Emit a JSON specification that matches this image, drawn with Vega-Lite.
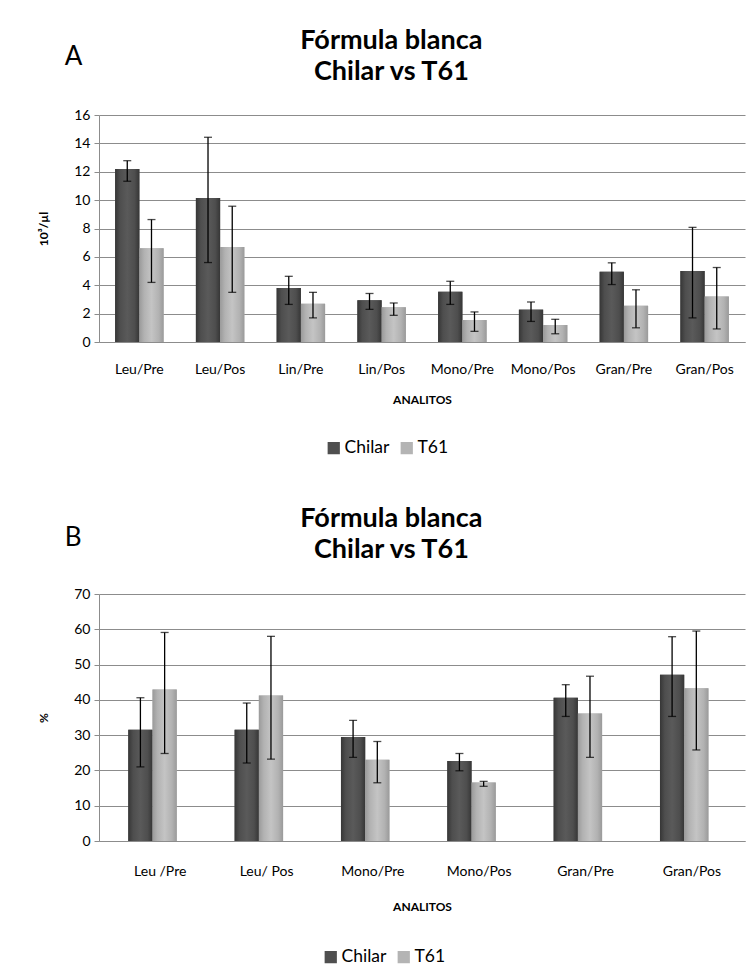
{
  "$schema": "https://vega.github.io/schema/vega-lite/v6.json",
  "background": "white",
  "padding": {"left": 37, "top": 27, "right": 4, "bottom": 0},
  "config": {
    "font": "Lato",
    "view": {"stroke": null},
    "axis": {"domainColor": "#8c8c8c", "gridColor": "#8c8c8c", "gridWidth": 1.2, "tickColor": "#8c8c8c", "labelColor": "#000", "titleColor": "#000", "labelFont": "Lato", "titleFont": "Lato", "labelFontSize": 14, "titleFontSize": 12, "titleFontWeight": "bold"},
    "legend": {"labelFont": "Lato", "labelFontSize": 17.5, "labelColor": "#000", "symbolType": "square", "symbolSize": 150, "symbolStrokeWidth": 0, "direction": "horizontal", "columnPadding": 8, "labelOffset": 2},
    "title": {"font": "Lato", "color": "#000"}
  },
  "datasets": {
    "a": [
      {"cat": "Leu/Pre", "serie": "Chilar", "val": 12.2, "lo": 11.33, "hi": 12.78},
      {"cat": "Leu/Pre", "serie": "T61", "val": 6.6, "lo": 4.2, "hi": 8.63},
      {"cat": "Leu/Pos", "serie": "Chilar", "val": 10.15, "lo": 5.6, "hi": 14.43},
      {"cat": "Leu/Pos", "serie": "T61", "val": 6.7, "lo": 3.5, "hi": 9.57},
      {"cat": "Lin/Pre", "serie": "Chilar", "val": 3.8, "lo": 2.65, "hi": 4.63},
      {"cat": "Lin/Pre", "serie": "T61", "val": 2.7, "lo": 1.7, "hi": 3.5},
      {"cat": "Lin/Pos", "serie": "Chilar", "val": 2.95, "lo": 2.3, "hi": 3.42},
      {"cat": "Lin/Pos", "serie": "T61", "val": 2.45, "lo": 1.88, "hi": 2.75},
      {"cat": "Mono/Pre", "serie": "Chilar", "val": 3.55, "lo": 2.65, "hi": 4.28},
      {"cat": "Mono/Pre", "serie": "T61", "val": 1.55, "lo": 0.75, "hi": 2.12},
      {"cat": "Mono/Pos", "serie": "Chilar", "val": 2.28, "lo": 1.45, "hi": 2.82},
      {"cat": "Mono/Pos", "serie": "T61", "val": 1.2, "lo": 0.58, "hi": 1.6},
      {"cat": "Gran/Pre", "serie": "Chilar", "val": 4.95, "lo": 4.05, "hi": 5.58},
      {"cat": "Gran/Pre", "serie": "T61", "val": 2.55, "lo": 1.0, "hi": 3.68},
      {"cat": "Gran/Pos", "serie": "Chilar", "val": 5.0, "lo": 1.7, "hi": 8.08},
      {"cat": "Gran/Pos", "serie": "T61", "val": 3.2, "lo": 0.92, "hi": 5.25}
    ],
    "b": [
      {"cat": "Leu /Pre", "serie": "Chilar", "val": 31.5, "lo": 21.0, "hi": 40.6},
      {"cat": "Leu /Pre", "serie": "T61", "val": 42.9, "lo": 24.8, "hi": 59.1},
      {"cat": "Leu/ Pos", "serie": "Chilar", "val": 31.5, "lo": 22.1, "hi": 39.1},
      {"cat": "Leu/ Pos", "serie": "T61", "val": 41.2, "lo": 23.2, "hi": 58.0},
      {"cat": "Mono/Pre", "serie": "Chilar", "val": 29.5, "lo": 23.7, "hi": 34.2},
      {"cat": "Mono/Pre", "serie": "T61", "val": 23.0, "lo": 16.5, "hi": 28.2},
      {"cat": "Mono/Pos", "serie": "Chilar", "val": 22.7, "lo": 19.9, "hi": 24.8},
      {"cat": "Mono/Pos", "serie": "T61", "val": 16.6, "lo": 15.5, "hi": 16.9},
      {"cat": "Gran/Pre", "serie": "Chilar", "val": 40.6, "lo": 35.3, "hi": 44.3},
      {"cat": "Gran/Pre", "serie": "T61", "val": 36.1, "lo": 23.7, "hi": 46.7},
      {"cat": "Gran/Pos", "serie": "Chilar", "val": 47.1, "lo": 35.3, "hi": 57.9},
      {"cat": "Gran/Pos", "serie": "T61", "val": 43.3, "lo": 25.8, "hi": 59.5}
    ]
  },
  "resolve": {"legend": {"color": "independent"}, "scale": {"color": "independent"}},
  "spacing": 48,
  "vconcat": [
    {
      "title": {"text": ["Fórmula blanca", "Chilar vs T61"], "anchor": "middle", "frame": "bounds", "fontSize": 27, "fontWeight": "bold", "lineHeight": 31, "offset": -42},
      "vconcat": [
        {
          "title": {"text": "A", "anchor": "start", "frame": "bounds", "fontSize": 26, "fontWeight": "normal", "dx": 27, "offset": 38},
          "width": 646,
          "height": 227,
          "data": {"name": "a"},
          "encoding": {
            "x": {"field": "cat", "type": "nominal", "sort": null, "scale": {"paddingInner": 0.4, "paddingOuter": 0.2}, "axis": {"title": "ANALITOS", "labelAngle": 0, "ticks": false, "grid": false, "labelPadding": 20, "titlePadding": 18}},
            "xOffset": {"field": "serie", "type": "nominal"}
          },
          "layer": [
            {
              "mark": {"type": "bar"},
              "encoding": {
                "y": {"field": "val", "type": "quantitative", "scale": {"domain": [0, 16]}, "axis": {"title": "10³/µl", "values": [0, 2, 4, 6, 8, 10, 12, 14, 16], "tickSize": 5, "labelPadding": 4, "titlePadding": 23}},
                "color": {"field": "serie", "type": "nominal", "scale": {"domain": ["Chilar", "T61"], "range": ["#4f4f4f", "#b4b4b4"]}, "legend": {"title": null, "orient": "none", "legendX": 226, "legendY": 324}}
              }
            },
            {
              "mark": {"type": "bar"},
              "encoding": {
                "y": {"field": "val", "type": "quantitative", "axis": {"title": "10³/µl", "values": [0, 2, 4, 6, 8, 10, 12, 14, 16], "tickSize": 5, "labelPadding": 4, "titlePadding": 23}},
                "fill": {"condition": {"test": "datum.serie === 'Chilar'", "value": {"gradient": "linear", "x1": 0, "y1": 0, "x2": 1, "y2": 0, "stops": [{"offset": 0, "color": "#363636"}, {"offset": 0.2, "color": "#4e4e4e"}, {"offset": 0.5, "color": "#5a5a5a"}, {"offset": 0.8, "color": "#4e4e4e"}, {"offset": 1, "color": "#363636"}]}}, "value": {"gradient": "linear", "x1": 0, "y1": 0, "x2": 1, "y2": 0, "stops": [{"offset": 0, "color": "#9a9a9a"}, {"offset": 0.2, "color": "#b2b2b2"}, {"offset": 0.5, "color": "#c4c4c4"}, {"offset": 0.8, "color": "#b2b2b2"}, {"offset": 1, "color": "#9a9a9a"}]}}
              }
            },
            {
              "mark": {"type": "rule", "color": "#000", "strokeWidth": 1.3},
              "encoding": {"y": {"field": "lo", "type": "quantitative", "axis": {"title": "10³/µl", "values": [0, 2, 4, 6, 8, 10, 12, 14, 16], "tickSize": 5, "labelPadding": 4, "titlePadding": 23}}, "y2": {"field": "hi"}}
            },
            {
              "mark": {"type": "tick", "color": "#000", "size": 8, "thickness": 1.3},
              "encoding": {"y": {"field": "lo", "type": "quantitative", "axis": {"title": "10³/µl", "values": [0, 2, 4, 6, 8, 10, 12, 14, 16], "tickSize": 5, "labelPadding": 4, "titlePadding": 23}}}
            },
            {
              "mark": {"type": "tick", "color": "#000", "size": 8, "thickness": 1.3},
              "encoding": {"y": {"field": "hi", "type": "quantitative", "axis": {"title": "10³/µl", "values": [0, 2, 4, 6, 8, 10, 12, 14, 16], "tickSize": 5, "labelPadding": 4, "titlePadding": 23}}}
            }
          ]
        }
      ]
    },
    {
      "title": {"text": ["Fórmula blanca", "Chilar vs T61"], "anchor": "middle", "frame": "bounds", "fontSize": 27, "fontWeight": "bold", "lineHeight": 31, "offset": -39},
      "vconcat": [
        {
          "title": {"text": "B", "anchor": "start", "frame": "bounds", "fontSize": 26, "fontWeight": "normal", "dx": 27, "offset": 36},
          "width": 646,
          "height": 247,
          "data": {"name": "b"},
          "encoding": {
            "x": {"field": "cat", "type": "nominal", "sort": null, "scale": {"paddingInner": 0.4, "paddingOuter": 0.2375, "align": 0.58}, "axis": {"title": "ANALITOS", "labelAngle": 0, "ticks": false, "grid": false, "labelPadding": 23, "titlePadding": 23}},
            "xOffset": {"field": "serie", "type": "nominal"}
          },
          "layer": [
            {
              "mark": {"type": "bar"},
              "encoding": {
                "y": {"field": "val", "type": "quantitative", "scale": {"domain": [0, 70]}, "axis": {"title": "%", "values": [0, 10, 20, 30, 40, 50, 60, 70], "tickSize": 5, "labelPadding": 4, "titlePadding": 23}},
                "color": {"field": "serie", "type": "nominal", "scale": {"domain": ["Chilar", "T61"], "range": ["#4f4f4f", "#b4b4b4"]}, "legend": {"title": null, "orient": "none", "legendX": 223, "legendY": 354}}
              }
            },
            {
              "mark": {"type": "bar"},
              "encoding": {
                "y": {"field": "val", "type": "quantitative", "axis": {"title": "%", "values": [0, 10, 20, 30, 40, 50, 60, 70], "tickSize": 5, "labelPadding": 4, "titlePadding": 23}},
                "fill": {"condition": {"test": "datum.serie === 'Chilar'", "value": {"gradient": "linear", "x1": 0, "y1": 0, "x2": 1, "y2": 0, "stops": [{"offset": 0, "color": "#363636"}, {"offset": 0.2, "color": "#4e4e4e"}, {"offset": 0.5, "color": "#5a5a5a"}, {"offset": 0.8, "color": "#4e4e4e"}, {"offset": 1, "color": "#363636"}]}}, "value": {"gradient": "linear", "x1": 0, "y1": 0, "x2": 1, "y2": 0, "stops": [{"offset": 0, "color": "#9a9a9a"}, {"offset": 0.2, "color": "#b2b2b2"}, {"offset": 0.5, "color": "#c4c4c4"}, {"offset": 0.8, "color": "#b2b2b2"}, {"offset": 1, "color": "#9a9a9a"}]}}
              }
            },
            {
              "mark": {"type": "rule", "color": "#000", "strokeWidth": 1.3},
              "encoding": {"y": {"field": "lo", "type": "quantitative", "axis": {"title": "%", "values": [0, 10, 20, 30, 40, 50, 60, 70], "tickSize": 5, "labelPadding": 4, "titlePadding": 23}}, "y2": {"field": "hi"}}
            },
            {
              "mark": {"type": "tick", "color": "#000", "size": 8, "thickness": 1.3},
              "encoding": {"y": {"field": "lo", "type": "quantitative", "axis": {"title": "%", "values": [0, 10, 20, 30, 40, 50, 60, 70], "tickSize": 5, "labelPadding": 4, "titlePadding": 23}}}
            },
            {
              "mark": {"type": "tick", "color": "#000", "size": 8, "thickness": 1.3},
              "encoding": {"y": {"field": "hi", "type": "quantitative", "axis": {"title": "%", "values": [0, 10, 20, 30, 40, 50, 60, 70], "tickSize": 5, "labelPadding": 4, "titlePadding": 23}}}
            }
          ]
        }
      ]
    }
  ]
}
